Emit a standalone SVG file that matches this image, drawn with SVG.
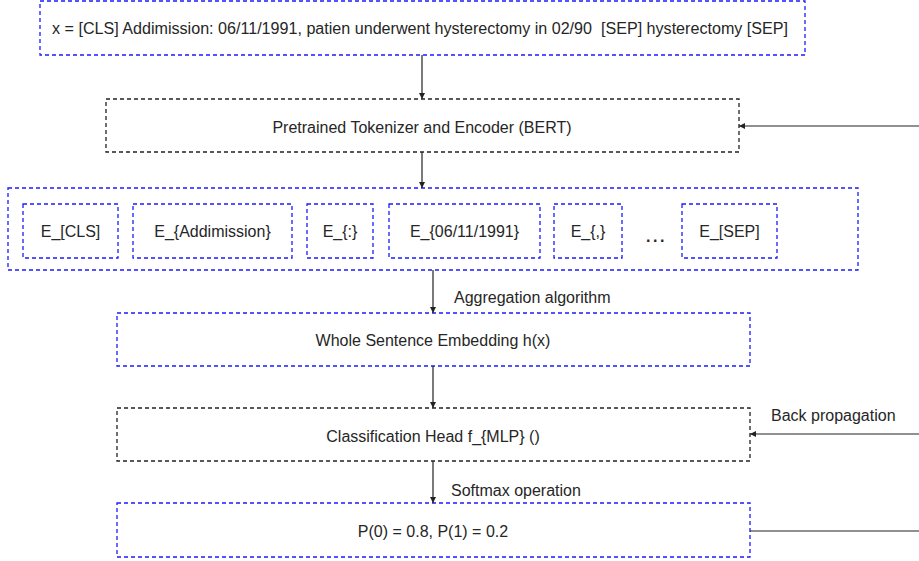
<svg xmlns="http://www.w3.org/2000/svg" width="919" height="561" viewBox="0 0 919 561">
  <style>
    .box-blue { fill: #ffffff; stroke: #1c1cff; stroke-width: 1.3; stroke-dasharray: 4 3; }
    .box-black { fill: #ffffff; stroke: #222222; stroke-width: 1.3; stroke-dasharray: 4 3; }
    .label { font-family: "Liberation Sans", Arial, sans-serif; font-size: 16px; fill: #262626; dominant-baseline: central; white-space: pre; }
    .mid { text-anchor: middle; }
    .edge { stroke: #222222; stroke-width: 1.2; fill: none; }
  </style>
  <defs>
    <marker id="arrow" viewBox="0 0 10 10" refX="10" refY="5" markerWidth="6" markerHeight="6" markerUnits="userSpaceOnUse" orient="auto">
      <path d="M0,0 L10,5 L0,10 z" fill="#222222"/>
    </marker>
  </defs>

  <rect width="919" height="561" fill="#ffffff"/>

  <!-- input sequence -->
  <g id="input">
    <rect class="box-blue" x="40" y="1" width="765" height="54"/>
    <text class="label" x="52" y="28" font-size="14" textLength="736" lengthAdjust="spacingAndGlyphs" xml:space="preserve">x = [CLS] Addimission: 06/11/1991, patien underwent hysterectomy in 02/90  [SEP] hysterectomy [SEP]</text>
  </g>

  <!-- encoder -->
  <g id="encoder">
    <rect class="box-black" x="106" y="99" width="633" height="53"/>
    <text class="label mid" x="422" y="127" font-size="14">Pretrained Tokenizer and Encoder (BERT)</text>
  </g>

  <!-- token embeddings -->
  <g id="embeddings">
    <rect class="box-blue" x="8" y="188" width="850" height="82"/>
  </g>
  <g id="e-cls">
    <rect class="box-blue" x="23" y="204" width="95" height="54"/>
    <text class="label mid" x="70.5" y="231">E_[CLS]</text>
  </g>
  <g id="e-addimission">
    <rect class="box-blue" x="133" y="204" width="159" height="54"/>
    <text class="label mid" x="212.5" y="231">E_{Addimission}</text>
  </g>
  <g id="e-colon">
    <rect class="box-blue" x="307" y="204" width="66" height="54"/>
    <text class="label mid" x="340" y="231">E_{:}</text>
  </g>
  <g id="e-date">
    <rect class="box-blue" x="389" y="204" width="151" height="54"/>
    <text class="label mid" x="464.5" y="231">E_{06/11/1991}</text>
  </g>
  <g id="e-comma">
    <rect class="box-blue" x="554" y="204" width="68" height="54"/>
    <text class="label mid" x="588" y="231">E_{,}</text>
  </g>
  <g id="ellipsis">
    <text class="label" x="646" y="242" font-size="19" font-weight="bold" letter-spacing="2.5" style="dominant-baseline: auto">...</text>
  </g>
  <g id="e-sep">
    <rect class="box-blue" x="682" y="204" width="95" height="54"/>
    <text class="label mid" x="729.5" y="231">E_[SEP]</text>
  </g>

  <!-- sentence embedding -->
  <g id="sentence">
    <rect class="box-blue" x="117" y="313" width="633" height="53"/>
    <text class="label mid" x="433" y="340" font-size="14">Whole Sentence Embedding h(x)</text>
  </g>

  <!-- classification head -->
  <g id="head">
    <rect class="box-black" x="117" y="408" width="633" height="53"/>
    <text class="label mid" x="433" y="436" font-size="14">Classification Head f_{MLP} ()</text>
  </g>

  <!-- output probabilities -->
  <g id="output">
    <rect class="box-blue" x="117" y="503" width="633" height="54"/>
    <text class="label mid" x="433" y="531" font-size="14">P(0) = 0.8, P(1) = 0.2</text>
  </g>

  <!-- connectors -->
  <g id="connectors">
    <line class="edge" x1="422" y1="55" x2="422" y2="99" marker-end="url(#arrow)"/>
    <line class="edge" x1="422" y1="152" x2="422" y2="188" marker-end="url(#arrow)"/>
    <line class="edge" x1="433" y1="270" x2="433" y2="313" marker-end="url(#arrow)"/>
    <line class="edge" x1="433" y1="366" x2="433" y2="408" marker-end="url(#arrow)"/>
    <line class="edge" x1="433" y1="461" x2="433" y2="503" marker-end="url(#arrow)"/>
    <line class="edge" x1="919" y1="126" x2="739" y2="126" marker-end="url(#arrow)"/>
    <line class="edge" x1="919" y1="434" x2="750" y2="434" marker-end="url(#arrow)"/>
    <line class="edge" x1="750" y1="531" x2="919" y2="531"/>
    <text class="label" x="454" y="297">Aggregation algorithm</text>
    <text class="label" x="771" y="415">Back propagation</text>
    <text class="label" x="451" y="490">Softmax operation</text>
  </g>
</svg>
